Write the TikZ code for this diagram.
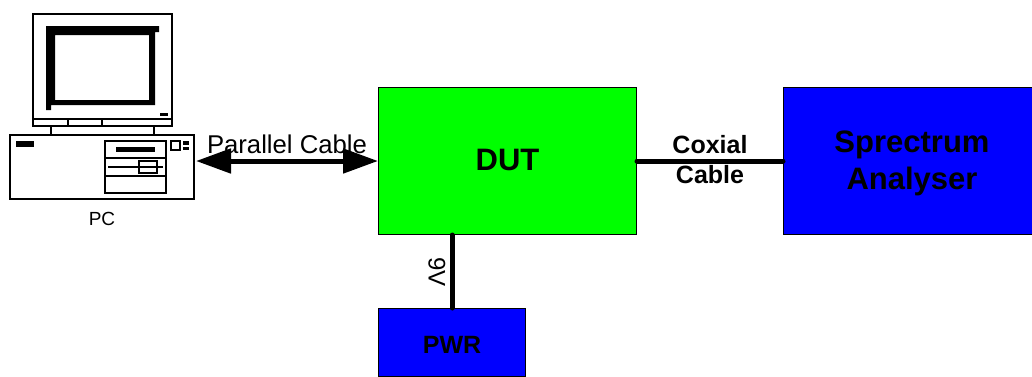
\documentclass[tikz,border=0pt]{standalone}
\usepackage{fontspec}
\setmainfont{Liberation Sans}
\usetikzlibrary{arrows.meta}
\definecolor{dutgreen}{RGB}{0,255,0}
\definecolor{boxblue}{RGB}{0,0,255}
\tikzset{
  x=1pt,y=-1pt,
  blockbox/.style={draw=black,line width=1pt,anchor=north west,inner sep=0pt},
  pcpart/.style={draw=black,line width=1.4pt,fill=white},
  pcline/.style={draw=black,line width=1.1pt},
  pcblack/.style={fill=black,draw=none},
  wire/.style={draw=black,line width=5pt,line cap=round},
  bigarrow/.style={draw=black,line width=5pt,{Triangle[length=35pt,width=24pt]}-{Triangle[length=35pt,width=24pt]}},
  label/.style={inner sep=0pt,text=black}
}
\begin{document}
\begin{tikzpicture}
\useasboundingbox (0,0) rectangle (1032,376);
% PC
\draw[pcpart] (33,14) rectangle (172,126);
\draw[pcline] (33,119) -- (172,119);
\draw[pcline] (68,119) -- (68,126);
\draw[pcline] (102,119) -- (102,126);
\fill[pcblack,even odd rule] (46,26) -- (159,26) -- (159,32) -- (155,32) -- (155,105) -- (51,105) -- (51,110) -- (46,110) -- cycle (55,35) rectangle (149,100);
\fill[pcblack] (160,113) rectangle (168,116);
\draw[pcline] (51,127) -- (51,135);
\draw[pcline] (154,127) -- (154,135);
\node[pcpart,minimum width=184pt,minimum height=64pt,inner sep=0pt] (base) at (102,167) {};
\fill[pcblack] (16,141) rectangle (34,147);
\draw[pcline] (105,141) rectangle (166,193);
\draw[pcline] (105,158) -- (166,158);
\draw[pcline] (105,176) -- (166,176);
\fill[pcblack] (116,147) rectangle (155,152);
\draw[pcline] (108,167) -- (163,167);
\draw[pcline] (139,161) rectangle (157,173);
\draw[pcline] (171,141) rectangle (180,150);
\fill[pcblack] (183,141) rectangle (189,145);
\fill[pcblack] (183,147) rectangle (189,150);
\node[label,font=\fontsize{19}{21}\selectfont] (pclabel) at (102,219) {PC};
% blocks
\node[blockbox,fill=dutgreen,minimum width=258pt,minimum height=147pt] (dut) at (378,87) {};
\node[blockbox,fill=boxblue,minimum width=250pt,minimum height=147pt] (spec) at (783,87) {};
\node[blockbox,fill=boxblue,minimum width=147pt,minimum height=68pt] (pwr) at (378,308) {};
\node[label,yshift=1pt,font=\bfseries\fontsize{31}{33}\selectfont] (duttext) at (dut.center) {DUT};
\node[label,xshift=3.5pt,yshift=-2.5pt,align=center,font=\bfseries\fontsize{31}{37}\selectfont] (spectext) at (spec.center) {Sprectrum\\Analyser};
\node[label,yshift=-2pt,font=\bfseries\fontsize{25}{27}\selectfont] (pwrtext) at (pwr.center) {PWR};
% connectors
\coordinate (pcport) at (196,161);
\draw[bigarrow] (pcport) -- (pcport -| dut.west);
\draw[wire] (dut.east) -- (spec.west);
\draw[wire] (pwr.north) -- (pwr.north |- dut.south);
% labels
\node[label,font=\fontsize{25.7}{28}\selectfont] (pcable) at (287,144) {Parallel Cable};
\node[label,align=center,font=\bfseries\fontsize{25}{30}\selectfont] (coax) at (710,160) {Coxial\\Cable};
\node[label,rotate=-90,font=\fontsize{24}{26}\selectfont] (volt) at (437,272) {9V};
\end{tikzpicture}
\end{document}
